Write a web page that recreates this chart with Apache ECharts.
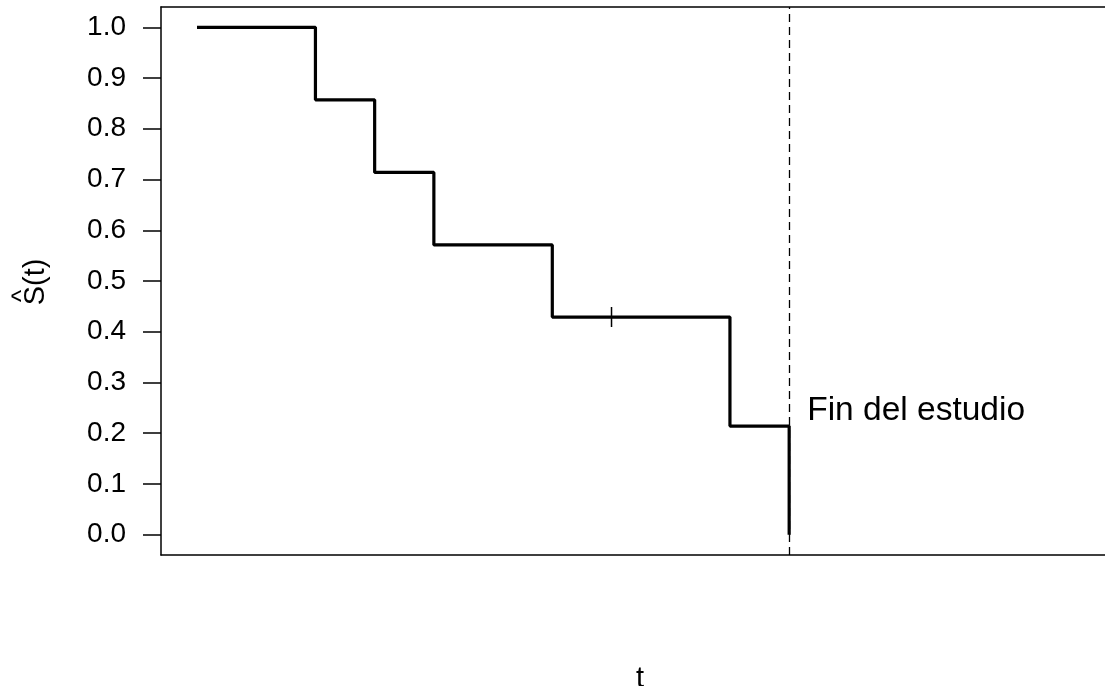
<!DOCTYPE html>
<html>
<head>
<meta charset="utf-8">
<script src="https://cdn.jsdelivr.net/npm/echarts@6/dist/echarts.min.js"></script>
<style>
html,body{margin:0;padding:0;background:#fff;}
#chart{width:1105px;height:686px;}
</style>
</head>
<body>
<div id="chart"></div>
<script>
// Kaplan-Meier estimate
const times = [0, 2, 3, 4, 6, 9, 10];
const survival = [1.0, 0.857, 0.714, 0.571, 0.429, 0.214, 0.0];
const censorTimes = [7];
const censorSurv = [0.429];
const studyEnd = 10;
const endLabel = 'Fin del estudio';
const yTicks = [0.0, 0.1, 0.2, 0.3, 0.4, 0.5, 0.6, 0.7, 0.8, 0.9, 1.0];
const xLabel = 't';
const yLabel = 'S(t)';

const FONT = '"Liberation Sans", Arial, sans-serif';
const chart = echarts.init(document.getElementById('chart'), null, {renderer: 'canvas'});

const stepData = times.map((t, i) => [t, survival[i]]);
const censorData = censorTimes.map((t, i) => [t, censorSurv[i]]);

chart.setOption({
  backgroundColor: '#fff',
  animation: false,
  grid: {left: 161, top: 7, width: 958, height: 548, containLabel: false, outerBoundsMode: 'none'},
  xAxis: [{
    type: 'value', min: -0.608, max: 15.57,
    position: 'bottom',
    name: xLabel, nameLocation: 'middle', nameGap: 109,
    nameTextStyle: {fontFamily: FONT, fontSize: 29, color: '#000'},
    axisLine: {show: true, onZero: false, lineStyle: {color: '#000', width: 1.5}},
    axisTick: {show: false}, axisLabel: {show: false}, splitLine: {show: false}
  }, {
    type: 'value', min: -0.608, max: 15.57,
    position: 'top',
    axisLine: {show: true, onZero: false, lineStyle: {color: '#000', width: 1.5}},
    axisTick: {show: false}, axisLabel: {show: false}, splitLine: {show: false}
  }],
  yAxis: {
    type: 'value', min: -0.04, max: 1.04,
    axisLine: {show: true, onZero: false, lineStyle: {color: '#000', width: 1.5}},
    axisTick: {show: true, length: 18, customValues: yTicks, lineStyle: {color: '#000', width: 1.5}},
    axisLabel: {show: true, customValues: yTicks, margin: 35, fontFamily: FONT, fontSize: 28, color: '#000',
      formatter: v => v.toFixed(1)},
    splitLine: {show: false}
  },
  graphic: [{
    type: 'group', x: 36, y: 282, rotation: Math.PI / 2,
    children: [
      {type: 'text', x: 0, y: 0, style: {text: yLabel, font: '29px ' + FONT, fill: '#000', align: 'center', verticalAlign: 'middle'}},
      {type: 'text', x: -14, y: -13, style: {text: '^', font: '26px ' + FONT, fill: '#000', align: 'center', verticalAlign: 'middle'}}
    ]
  }],
  series: [{
    type: 'line', step: 'end', data: stepData,
    symbol: 'none', lineStyle: {color: '#000', width: 3.2}, z: 3,
    markLine: {
      silent: true, symbol: 'none', label: {show: false},
      lineStyle: {color: '#000', width: 1.3, type: [8, 5]},
      data: [{xAxis: studyEnd}]
    }
  }, {
    type: 'custom', data: censorData, z: 4,
    renderItem: (params, api) => {
      const p = api.coord([api.value(0), api.value(1)]);
      return {type: 'group', children: [
        {type: 'line', shape: {x1: p[0], y1: p[1] - 10, x2: p[0], y2: p[1] + 10}, style: {stroke: '#000', lineWidth: 1.5}},
        {type: 'line', shape: {x1: p[0] - 10, y1: p[1], x2: p[0] + 10, y2: p[1]}, style: {stroke: '#000', lineWidth: 1.5}}
      ]};
    }
  }, {
    type: 'custom', data: [[studyEnd, 0.25]], z: 4,
    renderItem: (params, api) => {
      const p = api.coord([api.value(0), api.value(1)]);
      return {type: 'text', x: p[0] + 18, y: p[1] + 3, style: {text: endLabel, font: '33.5px ' + FONT, fill: '#000', align: 'left', verticalAlign: 'middle'}};
    }
  }]
});
</script>
</body>
</html>
